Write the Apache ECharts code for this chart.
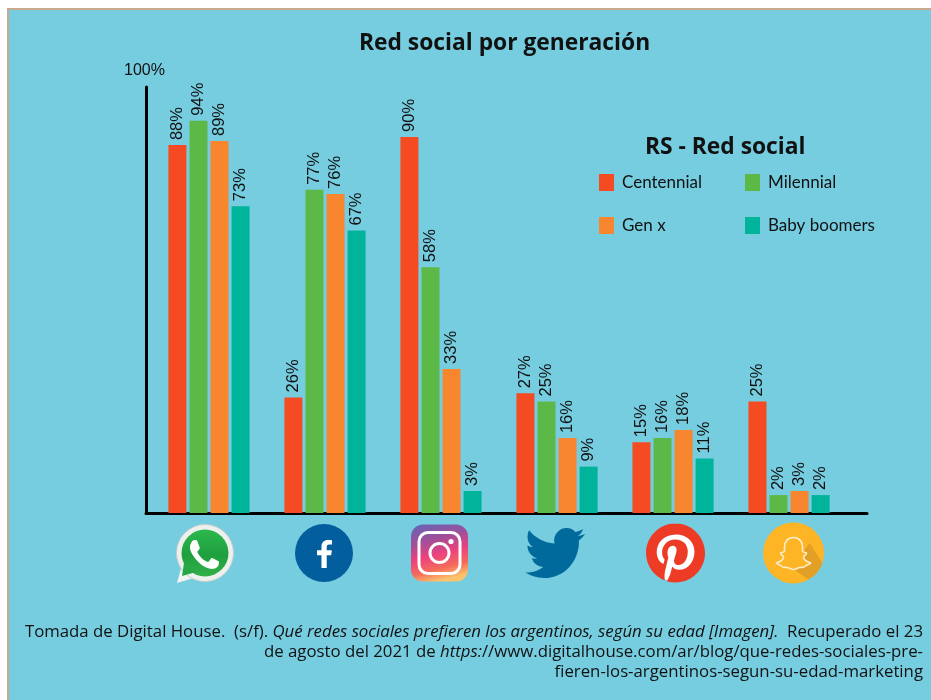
<!DOCTYPE html>
<html>
<head>
<meta charset="utf-8">
<title>Red social por generación</title>
<script src="https://cdn.jsdelivr.net/npm/echarts@6/dist/echarts.min.js"></script>
<style>
    html, body { margin: 0; padding: 0; background: #fff; }
    #panel { position: absolute; left: 7px; top: 8px; width: 924px; height: 692px; box-sizing: border-box;
             background: #76cde0; border-left: 2px solid #c2ab8e; border-top: 2px solid #c9a98c; }
    #main { position: absolute; left: 0; top: 0; width: 931px; height: 700px; }
</style>
</head>
<body>
<div id="panel"></div>
<div id="main"></div>
<script>
var redes = ['WhatsApp', 'Facebook', 'Instagram', 'Twitter', 'Pinterest', 'Snapchat'];
var centennial = [88, 26, 90, 27, 15, 25];
var milenial = [94, 77, 58, 25, 16, 2];
var genX = [89, 76, 33, 16, 18, 3];
var babyBoomers = [73, 67, 3, 9, 11, 2];

var INK = '#111';
var UI_FONT = 'Lato';
var HEAD_FONT = 'Open Sans';

function toPairs(arr) {
    return arr.map(function (v, i) { return [i, v]; });
}

function barSeries(name, values, color) {
    return {
        type: 'bar',
        name: name,
        data: toPairs(values),
        barWidth: 18,
        barGap: '17%',
        itemStyle: { color: color },
        label: {
            show: true,
            position: 'top',
            distance: 5,
            rotate: 90,
            align: 'left',
            verticalAlign: 'middle',
            fontFamily: 'Liberation Sans',
            fontSize: 16.5,
            color: INK,
            formatter: function (p) { return p.value[1] + '%'; }
        }
    };
}

// iconos dibujados en coordenadas locales (0,0 = centro del icono)
var PATH_WA = 'M17.472 14.382c-.297-.149-1.758-.867-2.03-.967-.273-.099-.471-.148-.67.15-.197.297-.767.966-.94 1.164-.173.199-.347.223-.644.075-.297-.15-1.255-.463-2.39-1.475-.883-.788-1.48-1.761-1.653-2.059-.173-.297-.018-.458.13-.606.134-.133.298-.347.446-.52.149-.174.198-.298.298-.497.099-.198.05-.371-.025-.52-.075-.149-.669-1.612-.916-2.207-.242-.579-.487-.5-.669-.51-.173-.008-.371-.01-.57-.01-.198 0-.52.074-.792.372-.272.297-1.04 1.016-1.04 2.479 0 1.462 1.065 2.875 1.213 3.074.149.198 2.096 3.2 5.077 4.487.709.306 1.262.489 1.694.625.712.227 1.36.195 1.871.118.571-.085 1.758-.719 2.006-1.413.248-.694.248-1.289.173-1.413-.074-.124-.272-.198-.57-.347z';
var PATH_FB = 'M13.5 21v-8h2.7l.4-3.2h-3.1V7.8c0-.9.3-1.5 1.6-1.5h1.6V3.5c-.3 0-1.3-.1-2.4-.1-2.4 0-4 1.5-4 4.1v2.3H7.6V13h2.7v8z';
var PATH_TW = 'M23.953 4.57a10 10 0 0 1 -2.825 .775 4.958 4.958 0 0 0 2.163 -2.723c-.951 .555-2.005 .959-3.127 1.184a4.92 4.92 0 0 0 -8.384 4.482C7.69 8.095 4.067 6.13 1.64 3.162a4.822 4.822 0 0 0 -.666 2.475c0 1.71 .87 3.213 2.188 4.096a4.904 4.904 0 0 1 -2.228 -.616v.06a4.923 4.923 0 0 0 3.946 4.827 4.996 4.996 0 0 1 -2.212 .085 4.936 4.936 0 0 0 4.604 3.417 9.867 9.867 0 0 1 -6.102 2.105c-.39 0-.779-.023-1.17-.067a13.995 13.995 0 0 0 7.557 2.209c9.053 0 13.998-7.496 13.998-13.985 0-.21 0-.42-.015-.63A9.935 9.935 0 0 0 24 4.59z';
var PATH_PI = 'M12.017 0C5.396 0 .029 5.367.029 11.987c0 5.079 3.158 9.417 7.618 11.162-.105-.949-.199-2.403.041-3.439.219-.937 1.406-5.957 1.406-5.957s-.359-.72-.359-1.781c0-1.663.967-2.911 2.168-2.911 1.024 0 1.518.769 1.518 1.688 0 1.029-.653 2.567-.992 3.992-.285 1.193.6 2.165 1.775 2.165 2.128 0 3.768-2.245 3.768-5.487 0-2.861-2.063-4.869-5.008-4.869-3.41 0-5.409 2.562-5.409 5.199 0 1.033.394 2.143.889 2.741.099.12.112.225.085.345-.09.375-.293 1.199-.334 1.363-.053.225-.172.271-.401.165-1.495-.69-2.433-2.878-2.433-4.646 0-3.776 2.748-7.252 7.92-7.252 4.158 0 7.392 2.967 7.392 6.923 0 4.135-2.607 7.462-6.233 7.462-1.214 0-2.354-.629-2.758-1.379l-.749 2.848c-.269 1.045-1.004 2.352-1.498 3.146 1.123.345 2.306.535 3.55.535 6.607 0 11.985-5.365 11.985-11.987C23.97 5.39 18.592.026 11.985.026L12.017 0z';
var PATH_GHOST = 'M0,-15.5C-6,-15.5 -9,-11 -9,-6L-9,-2C-10,0 -12,-1 -13,0C-13,2 -10,3 -10,4C-10,7 -14,9 -17,10C-16,12 -13,12 -12,13C-11,15 -9,14 -6,14.5C-4,15 -2,16.5 0,16.5C2,16.5 4,15 6,14.5C9,14 11,15 12,13C13,12 16,12 17,10C14,9 10,7 10,4C10,3 13,2 13,0C12,-1 10,0 9,-2L9,-6C9,-11 6,-15.5 0,-15.5Z';
var PATH_SHADOW = 'M16,-10L29,10A30.5,30.5 0 0 1 15,26.5L-2,15Z';

function pathBox(d, x, y, w, h, style) {
    return { type: 'path', shape: { pathData: d, x: x, y: y, width: w, height: h, layout: 'cover' }, style: style };
}
function circle(cx, cy, r, style) {
    return { type: 'circle', shape: { cx: cx, cy: cy, r: r }, style: style };
}
function vGrad(stops) {
    return new echarts.graphic.LinearGradient(0, 0, 0, 1, stops);
}

var iconos = {
    WhatsApp: { dx: -4, items: [
        { type: 'polygon', shape: { points: [[-23, 12], [-28, 30], [-8, 24]] }, style: { fill: '#f2f4f2' } },
        circle(0, 0, 28.5, { fill: '#eef0ee', stroke: '#c8cfcb', lineWidth: 1 }),
        circle(0, 0, 23.5, { fill: vGrad([{ offset: 0, color: '#2cb84f' }, { offset: 0.55, color: '#1f9f3e' }, { offset: 1, color: '#32b04a' }]) }),
        { type: 'polygon', shape: { points: [[-21, 10], [-23, 23], [-9, 19]] }, style: { fill: '#28a745' } },
        pathBox(PATH_WA, -15, -13, 29, 29, { fill: '#fff' })
    ] },
    Facebook: { dx: -1, items: [
        circle(0, 0, 29, { fill: '#025e9c' }),
        pathBox(PATH_FB, -7, -13, 15, 28, { fill: '#fff' })
    ] },
    Instagram: { dx: -1.5, items: [
        { type: 'rect', shape: { x: -28.5, y: -28.5, width: 57, height: 57, r: 12 }, style: { fill: new echarts.graphic.LinearGradient(0.2, 0, 0.45, 1, [
            { offset: 0, color: '#6b62b5' }, { offset: 0.3, color: '#a24f98' }, { offset: 0.55, color: '#ec417f' }, { offset: 0.8, color: '#f56a5b' }, { offset: 1, color: '#fdc36b' }
        ]) } },
        { type: 'rect', shape: { x: -20.5, y: -20.5, width: 41, height: 41, r: 9 }, style: { fill: 'none', stroke: '#fff', lineWidth: 3 } },
        circle(0, 0, 9.5, { fill: 'none', stroke: '#fff', lineWidth: 3 }),
        circle(11.5, -11.5, 2.6, { fill: '#fff' })
    ] },
    Twitter: { dx: -2, items: [
        pathBox(PATH_TW, -30, -25, 60, 50, { fill: '#006a9c' })
    ] },
    Pinterest: { dx: 2.5, items: [
        circle(0, 0, 28.5, { fill: '#fff' }),
        pathBox(PATH_PI, -29.5, -29.5, 59, 59, { fill: '#ee3b26' })
    ] },
    Snapchat: { dx: 4.5, items: [
        circle(0, 0, 30.5, { fill: '#fdb525' }),
        pathBox(PATH_SHADOW, -2, -10, 31, 36.5, { fill: '#e2a027' }),
        pathBox(PATH_GHOST, -17, -15.5, 34, 32, { fill: '#fdb525', stroke: '#fdeecb', lineWidth: 1.6 })
    ] }
};

function renderIcono(params, api) {
    var base = api.coord([api.value(0), yMin]);
    var icono = iconos[redes[params.dataIndex]];
    return {
        type: 'group',
        x: base[0] + icono.dx,
        y: base[1] + 40,
        children: icono.items
    };
}

var yMin = -2.4;   // la base del gráfico original no está en 0
var yMax = 102.27;

var footerRich = {
    n: { fontFamily: HEAD_FONT, fontSize: 16.8, fontWeight: 'normal', color: INK },
    i: { fontFamily: HEAD_FONT, fontSize: 16.8, fontWeight: 'normal', fontStyle: 'italic', color: INK }
};

function footerLine(text, top) {
    return { text: text, right: 8, top: top, padding: 0, textStyle: { rich: footerRich } };
}

var myChart = echarts.init(document.getElementById('main'));
var option = {
    animation: false,
    title: [
        {
            text: 'Red social por generación',
            left: 359, top: 32, padding: 0,
            textStyle: { fontFamily: HEAD_FONT, fontSize: 22.8, fontWeight: 700, color: INK }
        },
        {
            text: 'RS - Red social',
            left: 645, top: 136, padding: 0,
            textStyle: { fontFamily: HEAD_FONT, fontSize: 22.8, fontWeight: 700, color: INK }
        },
        footerLine('{n|Tomada de Digital House.  (s/f). }{i|Qué redes sociales prefieren los argentinos, según su edad [Imagen].}{n|  Recuperado el 23}', 624),
        footerLine('{n|de agosto del 2021 de }{i|https:}{n|//www.digitalhouse.com/ar/blog/que-redes-sociales-pre-}', 644),
        footerLine('{n|fieren-los-argentinos-segun-su-edad-marketing}', 664)
    ],
    legend: [
        {
            orient: 'vertical', left: 599, top: 174,
            icon: 'rect',
            itemWidth: 15, itemHeight: 17, itemGap: 26,
            data: ['Centennial', 'Gen x'],
            padding: 0,
            textStyle: { fontFamily: UI_FONT, fontSize: 17, color: INK, padding: [0, 0, 0, 3] },
            selectedMode: false
        },
        {
            orient: 'vertical', left: 745, top: 174,
            icon: 'rect',
            itemWidth: 15, itemHeight: 17, itemGap: 26,
            data: ['Milennial', 'Baby boomers'],
            padding: 0,
            textStyle: { fontFamily: UI_FONT, fontSize: 17, color: INK, padding: [0, 0, 0, 3] },
            selectedMode: false
        }
    ],
    grid: { left: 146, top: 87, width: 721, height: 426, containLabel: false },
    xAxis: {
        type: 'value',
        min: -0.543,
        max: 5.672,
        axisLine: { show: true, onZero: false, lineStyle: { color: '#000', width: 3 } },
        axisTick: { show: false },
        axisLabel: { show: false },
        splitLine: { show: false }
    },
    yAxis: {
        type: 'value',
        min: yMin,
        max: yMax,
        startValue: yMin,
        name: '100%',
        nameLocation: 'end',
        nameGap: 8,
        nameTextStyle: { fontFamily: 'Liberation Sans', fontSize: 16, color: INK, align: 'center', padding: [0, 3, 0, 0] },
        axisLine: { show: true, onZero: false, lineStyle: { color: '#000', width: 3 } },
        axisTick: { show: false },
        axisLabel: { show: false },
        splitLine: { show: false }
    },
    series: [
        barSeries('Centennial', centennial, '#f44b22'),
        barSeries('Milennial', milenial, '#5cb947'),
        barSeries('Gen x', genX, '#f7862f'),
        barSeries('Baby boomers', babyBoomers, '#00b39b'),
        {
            type: 'custom',
            name: 'redes',
            clip: false,
            silent: true,
            data: redes.map(function (r, i) { return [i]; }),
            encode: { x: 0 },
            renderItem: renderIcono
        }
    ]
};
myChart.setOption(option);
</script>
</body>
</html>
